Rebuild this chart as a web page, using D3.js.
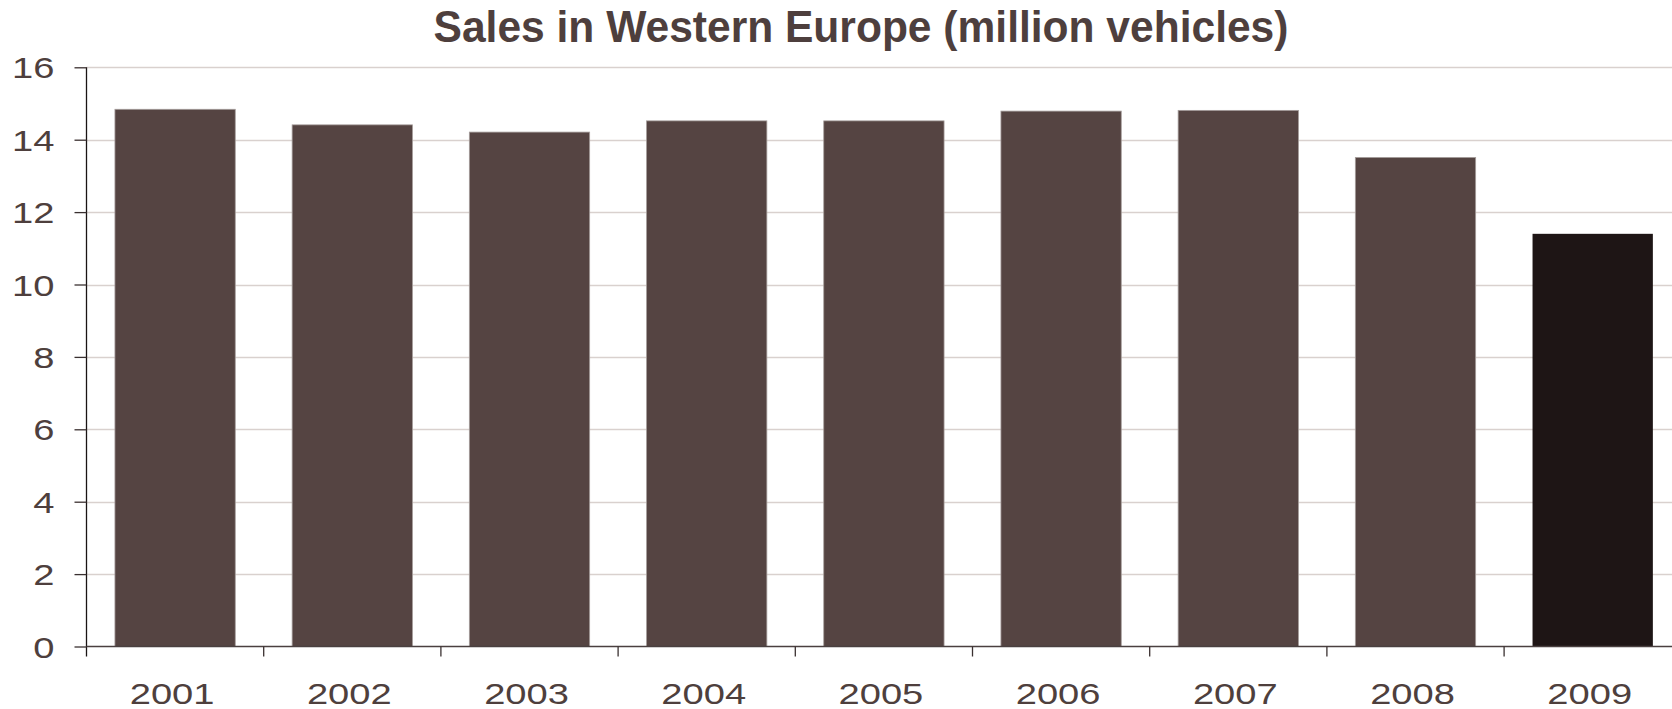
<!DOCTYPE html>
<html>
<head>
<meta charset="utf-8">
<script src="https://cdn.jsdelivr.net/npm/d3@7"></script>
<style>
  html, body { margin: 0; padding: 0; background: #ffffff; }
  svg { display: block; }
  text { font-family: "Liberation Sans", Arial, sans-serif; }
</style>
</head>
<body>
<svg id="chart" width="1672" height="709"></svg>
<script>
// Western European vehicle sales, million units
const years = ["2001", "2002", "2003", "2004", "2005", "2006", "2007", "2008", "2009"];
const sales = [14.84, 14.41, 14.21, 14.52, 14.52, 14.79, 14.81, 13.51, 11.40];
const yTicks = [0, 2, 4, 6, 8, 10, 12, 14, 16];
const titleText = "Sales in Western Europe (million vehicles)";

(function draw() {
  const W = 1672;
  const plotLeft = 86.5, plotRight = 1681.3, plotTop = 67.3, plotBottom = 646.5;
  const textColor = "#4e3f3d";
  const barColor = "#554442";
  const lastBarColor = "#1e1515";
  const wide = 1.27;   // horizontal stretch of the axis lettering

  const svg = d3.select("#chart");

  const x = d3.scaleBand()
    .domain(years)
    .range([plotLeft, plotRight])
    .paddingInner(0.321)
    .paddingOuter(0.1605);

  const y = d3.scaleLinear()
    .domain([0, 16])
    .range([plotBottom, plotTop]);

  // horizontal gridlines
  svg.append("g")
    .selectAll("line")
    .data(yTicks.filter(d => d > 0))
    .join("line")
    .attr("x1", plotLeft)
    .attr("x2", W)
    .attr("y1", d => Math.round(y(d)) + 0.5)
    .attr("y2", d => Math.round(y(d)) + 0.5)
    .attr("stroke", "#d9d1ce")
    .attr("stroke-width", 1.5);

  // bars
  svg.append("g")
    .selectAll("rect")
    .data(years.map((yr, i) => ({ yr, v: sales[i], last: i === years.length - 1 })))
    .join("rect")
    .attr("x", d => x(d.yr))
    .attr("width", x.bandwidth())
    .attr("y", d => y(d.v))
    .attr("height", d => y(0) - y(d.v))
    .attr("fill", d => d.last ? lastBarColor : barColor)
    .attr("stroke", d => d.last ? "none" : "#a59d9b")
    .attr("stroke-width", 0.8);

  // y axis
  const yAxis = svg.append("g")
    .attr("transform", `translate(${plotLeft},0)`)
    .call(d3.axisLeft(y).tickValues(yTicks).tickSize(12).tickSizeOuter(0));
  yAxis.select(".domain")
    .attr("stroke", "#1a1414")
    .attr("stroke-width", 1.3)
    .attr("d", `M0,${plotTop}V${plotBottom + 10}`);
  yAxis.selectAll(".tick line").attr("stroke", "#3a3030").attr("stroke-width", 1.3);
  yAxis.selectAll(".tick text")
    .attr("x", 0)
    .attr("dy", "0.35em")
    .attr("transform", `translate(-32,0) scale(${wide},1)`)
    .attr("fill", textColor)
    .style("font-size", "30px");

  // x axis with category labels
  const xAxis = svg.append("g")
    .attr("transform", `translate(0,${plotBottom})`)
    .call(d3.axisBottom(x).tickSize(0).tickSizeOuter(0));
  xAxis.select(".domain")
    .attr("stroke", "#4a4040")
    .attr("stroke-width", 1.3)
    .attr("d", `M${plotLeft},0H${W}`);
  xAxis.selectAll(".tick text")
    .attr("y", 0)
    .attr("dy", 0)
    .attr("transform", `translate(-3,57) scale(${wide},1)`)
    .attr("fill", textColor)
    .style("font-size", "30px");

  // tick marks between categories
  const edgeOffset = x.step() * x.paddingInner() / 2;
  svg.append("g")
    .selectAll("line")
    .data(years.slice(1))
    .join("line")
    .attr("x1", d => x(d) - edgeOffset)
    .attr("x2", d => x(d) - edgeOffset)
    .attr("y1", plotBottom)
    .attr("y2", plotBottom + 10)
    .attr("stroke", "#3a3030")
    .attr("stroke-width", 1.3);

  // title
  svg.append("text")
    .attr("transform", "translate(861,42.3) scale(0.967,1)")
    .attr("text-anchor", "middle")
    .attr("fill", textColor)
    .style("font-size", "44px")
    .style("font-weight", "bold")
    .text(titleText);
})();
</script>
</body>
</html>
